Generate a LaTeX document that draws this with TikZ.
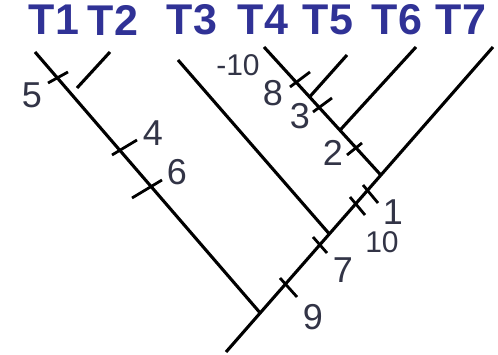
\documentclass[tikz,border=0pt]{standalone}
\usepackage{fontspec}
\setmainfont{Liberation Sans}
\usepackage{xcolor}
\usetikzlibrary{calc}
\definecolor{taxonblue}{RGB}{48,50,150}
\definecolor{mutgray}{RGB}{50,52,70}

\begin{document}
\begin{tikzpicture}[x=1pt, y=-1pt,
    branch/.style={line width=3.1pt},
    tickmark/.style={line width=2.8pt},
    taxon/.style={text=taxonblue, font=\bfseries\fontsize{43}{43}\selectfont, inner sep=0pt},
    mut/.style={text=mutgray, font=\fontsize{36}{36}\selectfont, inner sep=0pt},
    mutsmall/.style={text=mutgray, font=\fontsize{30}{30}\selectfont, inner sep=0pt}]
    \useasboundingbox (0,0) rectangle (498,355);

    % Spine of the tree
    \coordinate (root) at (226,352);
    \coordinate (T7top) at (493,47);
    \coordinate (n1) at ($(root)!0.128!(T7top)$);
    \coordinate (n3) at ($(root)!0.387!(T7top)$);
    \coordinate (n4) at ($(root)!0.580!(T7top)$);

    % Tips
    \coordinate (T1top) at (35,52);
    \coordinate (T2bot) at (77,88);
    \coordinate (T2top) at (110,52);
    \coordinate (T3top) at (178,60);
    \coordinate (T4top) at (264,47);
    \coordinate (T5top) at (347,55);
    \coordinate (T6top) at (416,47);
    \coordinate (n5) at ($(n4)!0.61!(T4top)$);
    \coordinate (n6) at ($(n4)!0.35!(T4top)$);

    % Branches
    \draw[branch] (root) -- (T7top);
    \draw[branch] (n1) -- (T1top);
    \draw[branch] (T2bot) -- (T2top);
    \draw[branch] (n3) -- (T3top);
    \draw[branch] (n4) -- (T4top);
    \draw[branch] (n5) -- (T5top);
    \draw[branch] (n6) -- (T6top);

    % Tick marks
    \draw[tickmark] (48,83) -- (68,72);
    \draw[tickmark] (112,155) -- (137,140);
    \draw[tickmark] (132,198) -- (162,180);
    \draw[tickmark] (280,278) -- (297,297);
    \draw[tickmark] (313,237) -- (327,253);
    \draw[tickmark] (350,197) -- (365,215);
    \draw[tickmark] (363,185) -- (378,203);
    \draw[tickmark] (347,155) -- (362,143);
    \draw[tickmark] (313,112) -- (332,98);
    \draw[tickmark] (290,87) -- (310,72);

    % Taxon labels
    \node[taxon] (t1) at (54,20) {T1};
    \node[taxon] (t2) at (113,20) {T2};
    \node[taxon] (t3) at (192,20) {T3};
    \node[taxon] (t4) at (263,20) {T4};
    \node[taxon] (t5) at (328,20) {T5};
    \node[taxon] (t6) at (397,20) {T6};
    \node[taxon] (t7) at (461,20) {T7};

    % Character labels
    \node[mut] (l5) at (32,95) {5};
    \node[mut] (l4) at (153,133) {4};
    \node[mut] (l6) at (177,172) {6};
    \node[mut] (l9) at (313,317) {9};
    \node[mut] (l7) at (343,270) {7};
    \node[mutsmall] (l10) at (382,242) {10};
    \node[mut] (l1) at (393,212) {1};
    \node[mut] (l2) at (333,153) {2};
    \node[mut] (l3) at (300,116) {3};
    \node[mut] (l8) at (273,93) {8};
    \node[mutsmall] (lm10) at (238,65) {-10};
\end{tikzpicture}
\end{document}
